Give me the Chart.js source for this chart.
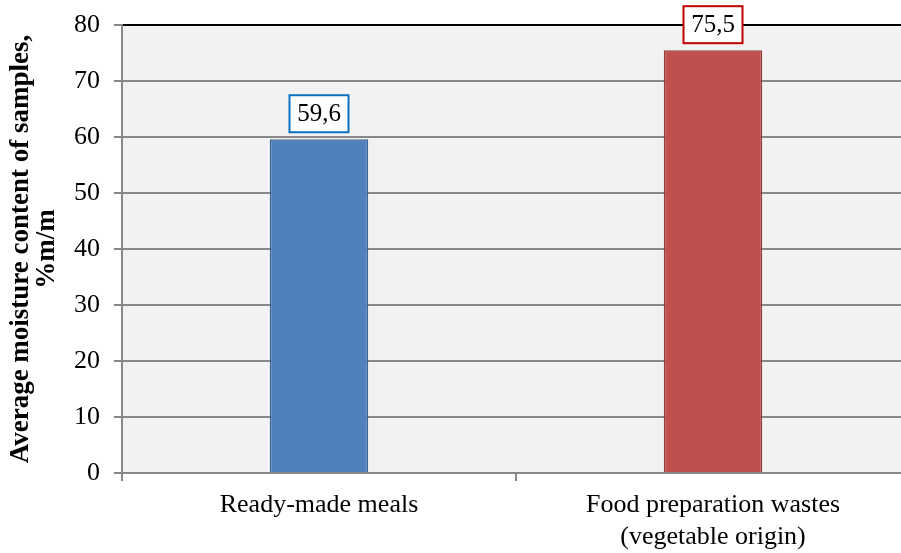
<!DOCTYPE html>
<html>
<head>
<meta charset="utf-8">
<script src="https://cdn.jsdelivr.net/npm/chart.js@4/dist/chart.umd.min.js"></script>
<style>
  html, body { margin:0; padding:0; background:#fff; overflow:hidden; }
  #wrap { width:912px; height:553px; }
</style>
</head>
<body>
<div id="wrap"><canvas id="moistureChart" width="912" height="553"></canvas></div>
<script>
const categories = [['Ready-made meals'], ['Food preparation wastes', '(vegetable origin)']];
const moisture = [59.6, 75.5];
const labelText = ['59,6', '75,5'];
const yTicks = [0, 10, 20, 30, 40, 50, 60, 70, 80];

const FONT = "'Liberation Serif', 'Times New Roman', serif";
const BAR_FILL = ['#4f81bd', '#c0504d'];
const BAR_EDGE = ['#3a6391', '#8e3b39'];
const BOX_EDGE = ['#0a70c2', '#c00000'];

// grey plot background
const plotBg = {
  id: 'plotBg',
  beforeDraw(chart) {
    const { ctx, chartArea: a } = chart;
    ctx.save();
    ctx.fillStyle = '#f2f2f2';
    ctx.fillRect(a.left, a.top, a.right - a.left, a.bottom - a.top);
    ctx.restore();
  }
};

// boxed value labels above bars
const valueBoxes = {
  id: 'valueBoxes',
  afterDatasetsDraw(chart) {
    const { ctx } = chart;
    const meta = chart.getDatasetMeta(0);
    ctx.save();
    ctx.font = '25px ' + FONT;
    ctx.textAlign = 'center';
    ctx.textBaseline = 'middle';
    meta.data.forEach((bar, i) => {
      const w = 59, h = 37;
      const x = bar.x - w / 2, y = bar.y - 7 - h;
      ctx.fillStyle = '#fff';
      ctx.fillRect(x, y, w, h);
      ctx.strokeStyle = BOX_EDGE[i];
      ctx.lineWidth = 2;
      ctx.strokeRect(x, y, w, h);
      ctx.fillStyle = '#000';
      ctx.fillText(labelText[i], bar.x, y + h / 2 + 1);
    });
    ctx.restore();
  }
};

new Chart(document.getElementById('moistureChart'), {
  type: 'bar',
  data: {
    labels: categories,
    datasets: [{
      data: moisture,
      backgroundColor: BAR_FILL,
      borderColor: BAR_EDGE,
      borderWidth: 1.5,
      categoryPercentage: 1,
      barPercentage: 0.25
    }]
  },
  options: {
    responsive: false,
    animation: false,
    layout: { padding: { top: 25, right: 2, left: 0, bottom: 0 } },
    plugins: { legend: { display: false }, tooltip: { enabled: false } },
    scales: {
      x: {
        grid: { display: true, drawOnChartArea: false, color: '#888', lineWidth: 2, tickLength: 8, offset: true },
        border: { color: '#888', width: 2 },
        ticks: { color: '#000', font: { family: FONT, size: 26, lineHeight: 1.2 }, padding: 9 },
        afterFit(scale) { scale.height = 80; }
      },
      y: {
        min: 0, max: 80,
        afterBuildTicks(scale) { scale.ticks = yTicks.map(v => ({ value: v })); },
        grid: {
          color: ctx => ctx.tick && ctx.tick.value === 80 ? '#000' : '#888',
          lineWidth: 2,
          tickLength: 8,
          tickColor: '#888'
        },
        border: { color: '#888', width: 2 },
        ticks: { color: '#000', font: { family: FONT, size: 26, lineHeight: 0.6 }, padding: 14 },
        title: {
          display: true,
          text: ['Average moisture content of samples,', '%m/m'],
          color: '#000',
          font: { family: FONT, size: 27, weight: 'bold', lineHeight: 0.96 },
          padding: { top: 8, bottom: 0 }
        },
        afterFit(scale) { scale.width = 122; }
      }
    }
  },
  plugins: [plotBg, valueBoxes]
});
</script>
</body>
</html>
